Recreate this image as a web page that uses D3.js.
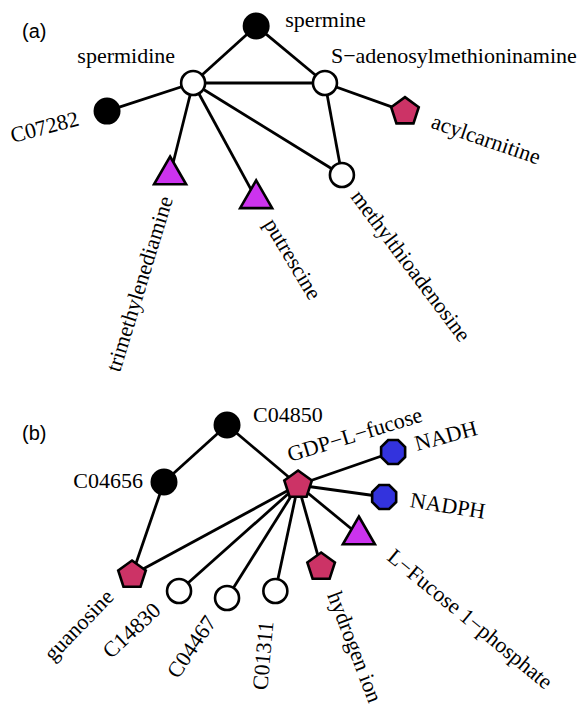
<!DOCTYPE html>
<html lang="en">
<head>
  <meta charset="UTF-8">
  <title>Metabolite sub-networks</title>
  <script src="https://d3js.org/d3.v7.min.js"></script>
  <style>
    body {
      margin: 0;
      background: #fff;
    }
    .label {
      font-family: "Liberation Serif", "Times New Roman", serif;
      font-size: 22px;
      fill: #000;
    }
    .panel-tag {
      font-family: "Liberation Sans", Arial, sans-serif;
      font-size: 20px;
    }
  </style>
</head>
<body>
  <div id="chart"></div>

  <script>
    // node layout in abstract units (0-10 each way), kind = marker class
    const aNodes = [
      { id: "spermine", kind: "black", x: 4.88, y: 0.33 },
      { id: "spermidine", kind: "white", x: 2.91, y: 3.50 },
      { id: "S\u2212adenosylmethioninamine", kind: "white", x: 7.03, y: 3.50 },
      { id: "C07282", kind: "black", x: 0.22, y: 5.06 },
      { id: "acylcarnitine", kind: "pent", x: 9.53, y: 5.09 },
      { id: "trimethylenediamine", kind: "tri", x: 2.19, y: 8.61 },
      { id: "putrescine", kind: "tri", x: 4.88, y: 9.94 },
      { id: "methylthioadenosine", kind: "white", x: 7.56, y: 8.61 }
    ];
    const aEdges = [
      ["spermine", "spermidine"],
      ["spermine", "S\u2212adenosylmethioninamine"],
      ["spermidine", "S\u2212adenosylmethioninamine"],
      ["spermidine", "C07282"],
      ["spermidine", "trimethylenediamine"],
      ["spermidine", "putrescine"],
      ["spermidine", "methylthioadenosine"],
      ["S\u2212adenosylmethioninamine", "acylcarnitine"],
      ["S\u2212adenosylmethioninamine", "methylthioadenosine"]
    ];

    const bNodes = [
      { id: "C04850", kind: "black", x: 3.97, y: 1.25 },
      { id: "C04656", kind: "black", x: 2.00, y: 4.10 },
      { id: "GDP\u2212L\u2212fucose", kind: "pent", x: 6.19, y: 4.25 },
      { id: "NADH", kind: "oct", x: 9.16, y: 2.60 },
      { id: "NADPH", kind: "oct", x: 8.88, y: 4.85 },
      { id: "L\u2212Fucose 1\u2212phosphate", kind: "tri", x: 8.09, y: 6.75 },
      { id: "hydrogen ion", kind: "pent", x: 6.91, y: 8.35 },
      { id: "guanosine", kind: "pent", x: 1.00, y: 8.75 },
      { id: "C14830", kind: "white", x: 2.47, y: 9.55 },
      { id: "C04467", kind: "white", x: 3.97, y: 9.90 },
      { id: "C01311", kind: "white", x: 5.48, y: 9.55 }
    ];
    const bEdges = [
      ["C04850", "C04656"],
      ["C04850", "GDP\u2212L\u2212fucose"],
      ["C04656", "guanosine"],
      ["GDP\u2212L\u2212fucose", "guanosine"],
      ["GDP\u2212L\u2212fucose", "C14830"],
      ["GDP\u2212L\u2212fucose", "C04467"],
      ["GDP\u2212L\u2212fucose", "C01311"],
      ["GDP\u2212L\u2212fucose", "hydrogen ion"],
      ["GDP\u2212L\u2212fucose", "L\u2212Fucose 1\u2212phosphate"],
      ["GDP\u2212L\u2212fucose", "NADPH"],
      ["GDP\u2212L\u2212fucose", "NADH"]
    ];

    const width = 588, height = 707;

    // label placement: [dx, dy, rotation, anchor] relative to the node centre
    const aLabelPos = {
      "spermine": [29, 1, 0, "start"],
      "spermidine": [-18, -20, 0, "end"],
      "S\u2212adenosylmethioninamine": [6, -20, 0, "start"],
      "C07282": [-27, 14, -15, "end"],
      "acylcarnitine": [25, 16, 19, "start"],
      "trimethylenediamine": [3, 24, -73, "end"],
      "putrescine": [7, 25, 59, "start"],
      "methylthioadenosine": [8, 22, 53, "start"]
    };
    const bLabelPos = {
      "C04850": [26, -3, 0, "start"],
      "C04656": [-21, 6, 0, "end"],
      "GDP\u2212L\u2212fucose": [-8, -23, -17, "start"],
      "NADH": [24, -1, -15, "start"],
      "NADPH": [25, 10, 9, "start"],
      "L\u2212Fucose 1\u2212phosphate": [27, 24, 39.5, "start"],
      "hydrogen ion": [6, 28, 69, "start"],
      "guanosine": [-17, 23, -46, "end"],
      "C14830": [-17, 21, -43, "end"],
      "C04467": [-10, 24, -56, "end"],
      "C01311": [-2, 31, -85, "end"]
    };

    const colors = { pent: "#cc3366", tri: "#cc33ee", oct: "#3333dd", black: "#000", white: "#fff" };

    // regular polygon symbol, size = circumradius squared
    const polygon = (n, start) => ({
      draw(ctx, size) {
        const r = Math.sqrt(size);
        for (let i = 0; i < n; i++) {
          const a = (start + i * 360 / n) * Math.PI / 180;
          const px = r * Math.cos(a), py = r * Math.sin(a);
          i ? ctx.lineTo(px, py) : ctx.moveTo(px, py);
        }
        ctx.closePath();
      }
    });
    const circle = {
      draw(ctx, size) {
        const r = Math.sqrt(size);
        ctx.moveTo(r, 0);
        ctx.arc(0, 0, r, 0, 2 * Math.PI);
      }
    };
    const shape = {
      black: [circle, 12.2 * 12.2],
      white: [circle, 12 * 12],
      pent: [polygon(5, -90), 14.5 * 14.5],
      tri: [polygon(3, -90), 18.5 * 18.5],
      oct: [polygon(8, 22.5), 13 * 13]
    };

    const svg = d3.select("#chart")
      .append("svg")
      .attr("width", width)
      .attr("height", height);

    function drawPanel(nodes, edges, labelPos, yRange, tag, tagY) {
      const x = d3.scaleLinear().domain([0, 10]).range([100, 420]);
      const y = d3.scaleLinear().domain([0, 10]).range(yRange);
      const byId = new Map(nodes.map(d => [d.id, d]));
      const g = svg.append("g");

      g.append("text")
        .attr("class", "panel-tag")
        .attr("x", 22)
        .attr("y", tagY)
        .text(tag);

      g.selectAll("line")
        .data(edges)
        .join("line")
        .attr("x1", d => x(byId.get(d[0]).x))
        .attr("y1", d => y(byId.get(d[0]).y))
        .attr("x2", d => x(byId.get(d[1]).x))
        .attr("y2", d => y(byId.get(d[1]).y))
        .attr("stroke", "#000")
        .attr("stroke-width", 2.8);

      g.selectAll("path.node")
        .data(nodes)
        .join("path")
        .attr("class", "node")
        .attr("transform", d => `translate(${x(d.x)},${y(d.y)})`)
        .attr("d", d => d3.symbol().type(shape[d.kind][0]).size(shape[d.kind][1])())
        .attr("fill", d => colors[d.kind])
        .attr("stroke", "#000")
        .attr("stroke-width", 2.6)
        .attr("stroke-linejoin", "miter");

      g.selectAll("text.label")
        .data(nodes)
        .join("text")
        .attr("class", "label")
        .attr("text-anchor", d => labelPos[d.id][3])
        .attr("transform", d => {
          const p = labelPos[d.id];
          return `translate(${x(d.x) + p[0]},${y(d.y) + p[1]}) rotate(${p[2]})`;
        })
        .text(d => d.id);
    }

    drawPanel(aNodes, aEdges, aLabelPos, [20, 200], "(a)", 38);
    drawPanel(bNodes, bEdges, bLabelPos, [400, 600], "(b)", 440);
  </script>
</body>
</html>
